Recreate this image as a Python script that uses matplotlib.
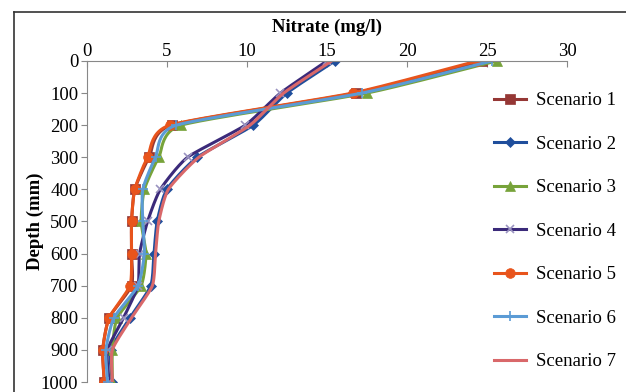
import numpy as np
import matplotlib.pyplot as plt
from matplotlib.lines import Line2D

depth = [0, 100, 200, 300, 400, 500, 600, 700, 800, 900, 1000]

scenario_1 = [24.7, 16.8, 5.3, 3.9, 3.0, 2.8, 2.8, 2.8, 1.4, 1.0, 1.1]
scenario_2 = [15.5, 12.5, 10.4, 6.9, 5.0, 4.4, 4.2, 4.0, 2.7, 1.5, 1.6]
scenario_3 = [25.6, 17.5, 5.9, 4.5, 3.6, 3.4, 3.7, 3.4, 1.9, 1.6, 1.6]
scenario_4 = [15.0, 12.1, 9.9, 6.3, 4.6, 3.8, 3.3, 3.2, 2.3, 1.3, 1.4]
scenario_5 = [24.4, 16.6, 5.2, 3.8, 3.0, 2.8, 2.8, 2.7, 1.4, 1.0, 1.1]
scenario_6 = [25.3, 17.2, 5.6, 4.3, 3.5, 3.5, 3.6, 3.2, 1.7, 1.2, 1.3]
scenario_7 = [15.3, 12.3, 10.2, 7.0, 5.1, 4.5, 4.3, 4.1, 2.8, 1.6, 1.6]

labels = ['Scenario 1', 'Scenario 2', 'Scenario 3', 'Scenario 4',
          'Scenario 5', 'Scenario 6', 'Scenario 7']

plt.rcParams['font.family'] = ['Liberation Serif', 'DejaVu Serif']


def smooth(x, y, n=24, c=0.6):
    # cardinal spline through the points, close to Excel's "smoothed line"
    pts = np.column_stack([x, y]).astype(float)
    # scale to pixel-ish units so tangents behave the same on both axes
    scale = np.array([16.0, 0.321])
    p = pts * scale
    m = np.zeros_like(p)
    m[1:-1] = c * (p[2:] - p[:-2]) / 2
    m[0] = c * (p[1] - p[0])
    m[-1] = c * (p[-1] - p[-2])
    t = np.linspace(0, 1, n, endpoint=False)[:, None]
    h00 = 2 * t ** 3 - 3 * t ** 2 + 1
    h10 = t ** 3 - 2 * t ** 2 + t
    h01 = -2 * t ** 3 + 3 * t ** 2
    h11 = t ** 3 - t ** 2
    out = []
    for i in range(len(p) - 1):
        out.append(h00 * p[i] + h10 * m[i] + h01 * p[i + 1] + h11 * m[i + 1])
    out.append(p[-1:])
    out = np.vstack(out) / scale
    return out[:, 0], out[:, 1]


fig = plt.figure(figsize=(6.26, 3.92), dpi=100)
ax = fig.add_axes([0.1385, 0.0255, 0.7675, 0.819])

styles = [
    (scenario_1, '#953735', '#953735', 's', 7),
    (scenario_2, '#1f4e9c', '#1f4e9c', 'D', 5),
    (scenario_3, '#77a33a', '#77a33a', '^', 7),
    (scenario_4, '#3b2a7a', '#9a93c0', 'x', 6),
    (scenario_5, '#e8541c', '#e8541c', 'o', 7),
    (scenario_6, '#5b9bd5', '#5b9bd5', '+', 7),
    (scenario_7, '#d9686a', '#d9686a', None, 0),
]

handles = []
for (vals, lc, mc, mk, ms), lab in zip(styles, labels):
    sx, sy = smooth(vals, depth)
    ax.plot(sx, sy, color=lc, lw=2.2, solid_capstyle='round')
    if mk:
        ax.plot(vals, depth, ls='none', marker=mk, ms=ms, color=mc,
                mec=mc, mew=1.2 if mk in 'x+' else 0.5)
    handles.append(Line2D([], [], color=lc, lw=2.2, marker=mk, ms=ms,
                          mfc=mc, mec=mc, mew=1.2 if mk and mk in 'x+' else 0.5))

ax.set_xlim(0, 30)
ax.set_ylim(1000, 0)
ax.set_xticks(np.arange(0, 31, 5))
ax.set_yticks(np.arange(0, 1001, 100))
ax.xaxis.tick_top()
ax.xaxis.set_label_position('top')
ax.tick_params(axis='x', direction='in', length=4, color='#888888',
               labelsize=13.5, pad=1)
ax.tick_params(axis='y', direction='out', length=4, color='#888888',
               labelsize=13.5, pad=2)
for s in ['right', 'bottom']:
    ax.spines[s].set_visible(False)
for s in ['top', 'left']:
    ax.spines[s].set_color('#888888')
ax.set_xlabel('Nitrate (mg/l)', fontsize=13.5, fontweight='bold', labelpad=8)
ax.set_ylabel('Depth (mm)', fontsize=13.5, fontweight='bold', labelpad=-2)
ax.patch.set_alpha(0)

fig.legend(handles, labels, loc='upper left',
           bbox_to_anchor=(494 / 626, 1 - 92 / 392),
           frameon=False, fontsize=13.5, labelspacing=1.41, handlelength=1.7,
           handletextpad=0.55, borderpad=0, borderaxespad=0)

# outer chart border (top and left edges are visible)
fig.add_artist(Line2D([14 / 626, 1.0], [1 - 12 / 392] * 2, color='#333333',
                      lw=1.2, transform=fig.transFigure))
fig.add_artist(Line2D([14 / 626] * 2, [0.0, 1 - 12 / 392], color='#333333',
                      lw=1.2, transform=fig.transFigure))

fig.savefig('out.png', dpi=100)
